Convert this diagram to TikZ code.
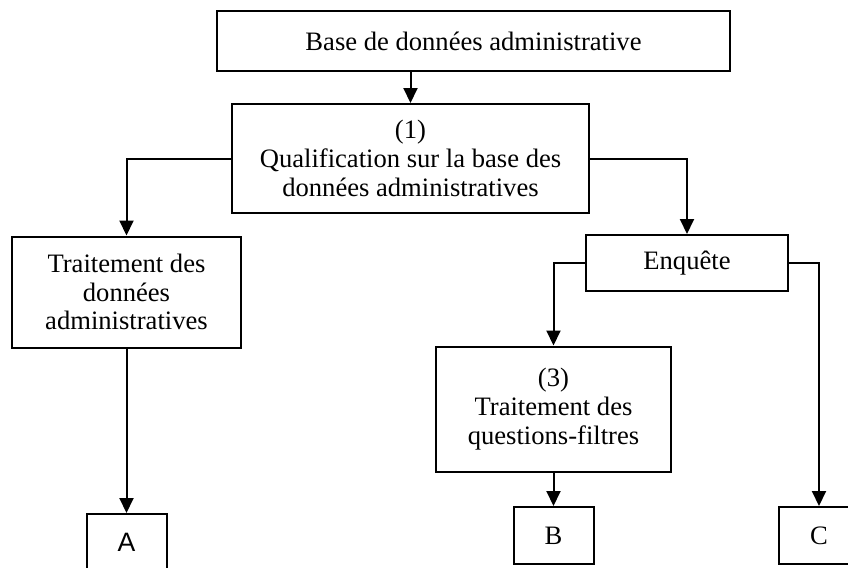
\documentclass[tikz,border=0pt]{standalone}
\usepackage{fontspec}
\setmainfont{Liberation Serif}
\newfontfamily\arialfont{Liberation Sans}
\usetikzlibrary{arrows.meta}
\tikzset{
  box/.style={draw, line width=1pt, inner sep=0pt, align=center,
    font=\fontsize{13.3}{14.4}\selectfont},
  arr/.style={line width=1pt, -{Triangle[length=7.5pt,width=7pt]}},
}
\begin{document}
\begin{tikzpicture}[x=0.5pt,y=-0.5pt]
\useasboundingbox (0,0) rectangle (848,568);
\clip (0,0) rectangle (848,568);
\node[box, minimum width=256.5pt, minimum height=30pt] (top) at (473.5,41) {Base de données administrative};
\node[box, minimum width=178.5pt, minimum height=54.5pt] (qual) at (410.5,158.5) {(1)\\Qualification sur la base des\\données administratives};
\node[box, minimum width=114.5pt, minimum height=55.5pt] (trt) at (126.5,292) {Traitement des\\données\\administratives};
\node[box, minimum width=101pt, minimum height=28pt] (enq) at (687,263) {Enquête};
\node[box, minimum width=117.5pt, minimum height=62.5pt] (q3) at (553.5,409) {(3)\\Traitement des\\questions-filtres};
\node[box, minimum width=40pt, minimum height=42pt] (A) at (126.5,556) {};
\node[font=\arialfont\fontsize{13.3}{14.4}\selectfont] (Alab) at (126.5,542) {A};
\node[box, minimum width=40pt, minimum height=28.5pt] (B) at (553.5,535.5) {B};
\node[box, minimum width=40pt, minimum height=28.5pt] (C) at (819,535.5) {C};
\draw[arr] (top.south -| qual.north) -- (qual.north);
\draw[arr] (qual.west) -| (trt.north);
\draw[arr] (qual.east) -| (enq.north);
\draw[arr] (enq.west) -| (q3.north);
\draw[arr] (enq.east) -| (C.north);
\draw[arr] (trt.south) -- (A.north);
\draw[arr] (q3.south) -- (B.north);
\end{tikzpicture}
\end{document}
